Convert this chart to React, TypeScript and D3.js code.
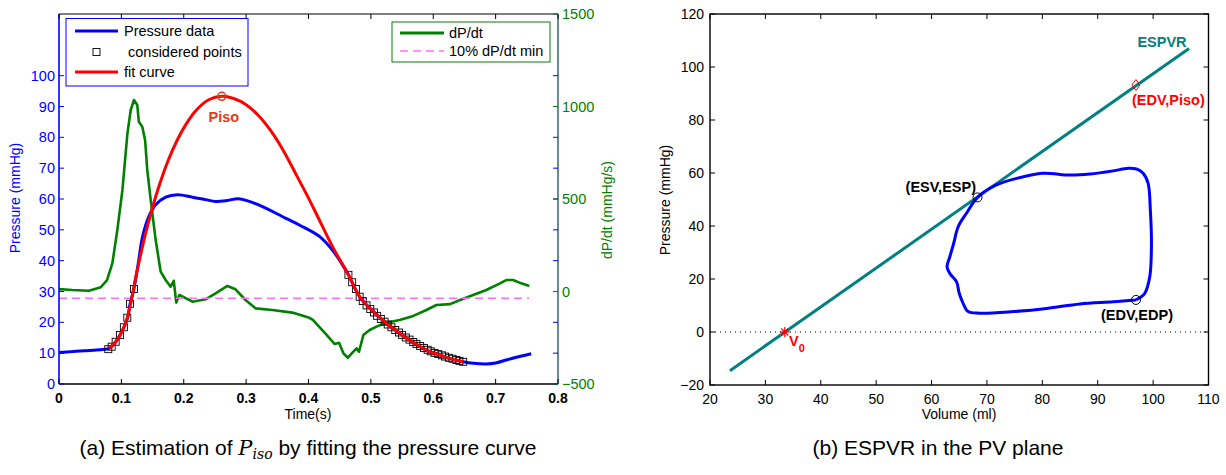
import React from 'react';
import * as d3 from 'd3';

// ---------- Left chart data ----------
const timeTicks = [0, 0.1, 0.2, 0.3, 0.4, 0.5, 0.6, 0.7, 0.8];
const pressureTicks = [0, 10, 20, 30, 40, 50, 60, 70, 80, 90, 100];
const dpdtTicks = [-500, 0, 500, 1000, 1500];

const pressureTime = [0, 0.02, 0.04, 0.06, 0.075, 0.079, 0.084, 0.091, 0.098, 0.104, 0.11, 0.114, 0.12, 0.127, 0.134, 0.144, 0.155, 0.171, 0.19, 0.214, 0.235, 0.251, 0.27, 0.288, 0.32, 0.363, 0.386, 0.418, 0.44, 0.458, 0.464, 0.482, 0.504, 0.525, 0.546, 0.568, 0.589, 0.611, 0.632, 0.648, 0.665, 0.685, 0.7, 0.717, 0.74, 0.757];
const pressureValues = [10.2, 10.5, 10.8, 11.0, 11.3, 11.4, 12.1, 13.7, 15.9, 18.4, 21.5, 26.0, 30.8, 39.0, 47.8, 54.3, 58.1, 60.6, 61.4, 60.6, 59.8, 59.2, 59.5, 60.1, 58.1, 53.8, 51.5, 47.8, 43.0, 37.5, 35.4, 28.3, 23.5, 19.7, 16.5, 13.5, 11.0, 9.4, 8.0, 7.2, 6.7, 6.5, 6.8, 7.8, 9.0, 9.8];

const fitTime = [0.08, 0.091, 0.098, 0.104, 0.109, 0.115, 0.123, 0.131, 0.139, 0.15, 0.16, 0.175, 0.19, 0.205, 0.22, 0.24, 0.261, 0.28, 0.3, 0.32, 0.34, 0.36, 0.38, 0.4, 0.42, 0.44, 0.464, 0.482, 0.504, 0.525, 0.546, 0.568, 0.589, 0.611, 0.632, 0.648];
const fitValues = [11.6, 13.7, 15.9, 18.4, 21.0, 26.2, 34.5, 42.0, 49.0, 57.3, 64.0, 72.5, 79.3, 84.7, 88.8, 92.2, 93.3, 92.6, 90.6, 87.0, 82.0, 75.6, 68.0, 60.3, 52.1, 44.0, 35.4, 28.3, 23.5, 19.7, 16.5, 13.5, 11.0, 9.4, 8.0, 7.2];

const pointTime = [0.079, 0.0844, 0.0908, 0.0978, 0.104, 0.1095, 0.1138, 0.1202,
  0.464, 0.470, 0.476, 0.482, 0.487, 0.493, 0.499, 0.505, 0.510, 0.516, 0.522, 0.527, 0.533, 0.539, 0.545, 0.550, 0.556, 0.562, 0.568, 0.573, 0.579, 0.585, 0.591, 0.596, 0.602, 0.608, 0.614, 0.619, 0.625, 0.631, 0.637, 0.642, 0.648];
const pointValues = [11.3, 12.1, 13.7, 15.9, 18.4, 21.5, 26.0, 30.8,
  35.4, 33.0, 30.8, 28.3, 26.9, 25.5, 24.3, 23.2, 22.1, 21.1, 20.2, 19.3, 18.4, 17.5, 16.7, 15.9, 15.1, 14.4, 13.6, 13.0, 12.3, 11.7, 11.1, 10.6, 10.1, 9.7, 9.3, 8.9, 8.5, 8.2, 7.8, 7.5, 7.2];

const dpdtTime = [0, 0.021, 0.048, 0.067, 0.077, 0.0855, 0.0935, 0.1017, 0.1097, 0.115, 0.1202, 0.1255, 0.128, 0.1335, 0.138, 0.1415, 0.147, 0.155, 0.163, 0.171, 0.179, 0.184, 0.188, 0.193, 0.214, 0.235, 0.251, 0.27, 0.283, 0.299, 0.315, 0.342, 0.374, 0.4, 0.407, 0.429, 0.442, 0.449, 0.456, 0.463, 0.472, 0.477, 0.481, 0.488, 0.498, 0.509, 0.525, 0.546, 0.568, 0.589, 0.605, 0.627, 0.643, 0.664, 0.685, 0.707, 0.717, 0.728, 0.741, 0.754];
const dpdtValues = [13, 8, 4, 23, 62, 152, 332, 549, 855, 981, 1035, 1008, 918, 891, 819, 657, 495, 278, 107, 62, 26, 58, -60, -19, -55, -42, -10, 30, 12, -46, -91, -100, -114, -140, -154, -235, -284, -277, -334, -358, -325, -307, -325, -235, -208, -190, -169, -154, -132, -100, -73, -68, -46, -19, 8, 44, 62, 62, 44, 30];

const thresholdValue = -37;
const thresholdRange = [0, 0.754];
const pisoPoint = { t: 0.261, p: 93.3 };

// ---------- Right chart data ----------
const volumeTicks = [20, 30, 40, 50, 60, 70, 80, 90, 100, 110];
const pvPressureTicks = [-20, 0, 20, 40, 60, 80, 100, 120];

const loopVolume = [96.9, 98.5, 99.4, 99.7, 99.5, 99.1, 98.2, 97.0, 95.5, 92.8, 88.6, 85.0, 80.2, 76.6, 71.7, 68.3, 66.3, 64.8, 64.0, 63.3, 62.8, 63.3, 64.5, 65.0, 65.7, 66.6, 68.7, 74.7, 80.8, 86.8, 92.8, 96.9];
const loopPressure = [12.1, 14.6, 20.9, 33.5, 46.0, 56.1, 59.9, 61.5, 61.8, 60.8, 59.6, 59.2, 59.9, 58.6, 55.5, 50.8, 44.8, 39.7, 33.5, 28.4, 24.6, 22.1, 19.0, 14.6, 10.8, 7.7, 7.1, 7.7, 8.9, 10.6, 11.4, 12.1];

const espvrVolume = [23.6, 106.5];
const espvrPressure = [-14.6, 107];
const v0Point = { v: 33.5, p: 0 };
const espPoint = { v: 68.3, p: 50.8 };
const edpPoint = { v: 96.9, p: 12.1 };
const edPisoPoint = { v: 96.9, p: 93.2 };

const FONT = "'Liberation Sans', Arial, Helvetica, sans-serif";
const BLUE = '#0000ff';
const GREEN = '#008000';
const RED = '#ff0000';
const TEAL = '#008080';
const MAGENTA = '#ff6cff';

export default function App() {
  const xT = d3.scaleLinear().domain([0, 0.8]).range([59, 558]);
  const yP = d3.scaleLinear().domain([0, 120]).range([384, 14]);
  const yD = d3.scaleLinear().domain([-500, 1500]).range([384, 14]);
  const xV = d3.scaleLinear().domain([20, 110]).range([710, 1208.5]);
  const yV = d3.scaleLinear().domain([-20, 120]).range([385, 14]);

  const smooth = d3.line<[number, number]>().curve(d3.curveCatmullRom.alpha(0.5));
  const straight = d3.line<[number, number]>();

  const pressurePath = smooth(pressureTime.map((t, i) => [xT(t), yP(pressureValues[i])]));
  const fitPath = smooth(fitTime.map((t, i) => [xT(t), yP(fitValues[i])]));
  const dpdtPath = straight(dpdtTime.map((t, i) => [xT(t), yD(dpdtValues[i])]));
  const loopPath = smooth(loopVolume.map((v, i) => [xV(v), yV(loopPressure[i])]));
  const espvrPath = straight(espvrVolume.map((v, i) => [xV(v), yV(espvrPressure[i])]));

  const [lx0, lx1] = xT.range();
  const [ly1, ly0] = yP.range();
  const [rx0, rx1] = xV.range();
  const [ry1, ry0] = yV.range();
  const tick = 5;
  const serif = "'DejaVu Serif', 'Liberation Serif', serif";

  return (
    <svg width={1226} height={475} style={{ position: 'absolute', left: 0, top: 0, background: '#fff' }} fontFamily={FONT}>
      <rect x={0} y={0} width={1226} height={475} fill="#fff" />

      {/* ================= LEFT CHART ================= */}
      <path d={dpdtPath || ''} fill="none" stroke={GREEN} strokeWidth={2.6} strokeLinejoin="round" />
      <line x1={xT(thresholdRange[0])} x2={xT(thresholdRange[1])} y1={yD(thresholdValue)} y2={yD(thresholdValue)} stroke={MAGENTA} strokeWidth={1.5} strokeDasharray="8,5" />

      <path d={pressurePath || ''} fill="none" stroke={BLUE} strokeWidth={3} />
      {pointTime.map((t, i) => (
        <rect key={i} x={xT(t) - 3.5} y={yP(pointValues[i]) - 3.5} width={7} height={7} fill="none" stroke="#000" strokeWidth={0.9} />
      ))}
      <path d={fitPath || ''} fill="none" stroke={RED} strokeWidth={3} />
      <circle cx={xT(pisoPoint.t)} cy={yP(pisoPoint.p)} r={4} fill="none" stroke="#e2381c" strokeWidth={1.5} />
      <line x1={xT(pisoPoint.t) - 3.5} x2={xT(pisoPoint.t) + 3.5} y1={yP(pisoPoint.p)} y2={yP(pisoPoint.p)} stroke="#e2381c" strokeWidth={1} />
      <text x={xT(pisoPoint.t) + 2} y={yP(pisoPoint.p) + 26} textAnchor="middle" fontSize={14.5} fontWeight="bold" fill="#e2381c">Piso</text>

      {/* axes frame */}
      <line x1={lx0} x2={lx1} y1={ly0} y2={ly0} stroke="#000" strokeWidth={1.2} />
      <line x1={lx0} x2={lx1} y1={ly1} y2={ly1} stroke="#000" strokeWidth={1.4} />
      <line x1={lx0} x2={lx0} y1={ly0} y2={ly1} stroke={BLUE} strokeWidth={1.6} />
      <line x1={lx1} x2={lx1} y1={ly0} y2={ly1} stroke="#1f5f6f" strokeWidth={1.4} />

      {timeTicks.map((t) => (
        <g key={t}>
          <line x1={xT(t)} x2={xT(t)} y1={ly1} y2={ly1 - tick} stroke="#000" />
          <line x1={xT(t)} x2={xT(t)} y1={ly0} y2={ly0 + tick} stroke="#000" />
          <text x={xT(t)} y={403} textAnchor="middle" fontSize={14} fontWeight="bold" fill="#000">{t === 0 ? '0' : String(t)}</text>
        </g>
      ))}
      {pressureTicks.map((p) => (
        <g key={p}>
          <line x1={lx0} x2={lx0 + tick} y1={yP(p)} y2={yP(p)} stroke={BLUE} />
          <line x1={lx1} x2={lx1 - tick} y1={yP(p)} y2={yP(p)} stroke={BLUE} />
          <text x={55} y={yP(p) + 5} textAnchor="end" fontSize={14.5} fill={BLUE}>{p}</text>
        </g>
      ))}
      {dpdtTicks.map((d) => (
        <g key={d}>
          <line x1={lx1} x2={lx1 - tick} y1={yD(d)} y2={yD(d)} stroke={GREEN} />
          <text x={562} y={yD(d) + 5} textAnchor="start" fontSize={14.5} fill={GREEN}>{d < 0 ? '\u2212' + Math.abs(d) : d}</text>
        </g>
      ))}
      <text transform="translate(20,198) rotate(-90)" textAnchor="middle" fontSize={14} fill={BLUE}>Pressure (mmHg)</text>
      <text transform="translate(612,210) rotate(-90)" textAnchor="middle" fontSize={14} fill={GREEN}>dP/dt (mmHg/s)</text>
      <text x={308} y={419} textAnchor="middle" fontSize={14} fill="#000">Time(s)</text>

      {/* legend 1 */}
      <rect x={66} y={18.5} width={182} height={67.5} fill="#fff" stroke={BLUE} strokeWidth={1} />
      <line x1={75} x2={118} y1={31} y2={31} stroke={BLUE} strokeWidth={3} />
      <text x={124} y={36} fontSize={14.5} fill="#000">Pressure data</text>
      <rect x={93} y={48.5} width={7} height={7} fill="none" stroke="#000" strokeWidth={0.9} />
      <text x={128} y={57} fontSize={14.5} fill="#000">considered points</text>
      <line x1={75} x2={118} y1={72} y2={72} stroke={RED} strokeWidth={3} />
      <text x={124} y={77} fontSize={14.5} fill="#000">fit curve</text>

      {/* legend 2 */}
      <rect x={392} y={22} width={158} height={40} fill="#fff" stroke={GREEN} strokeWidth={1} />
      <line x1={400} x2={444} y1={33} y2={33} stroke={GREEN} strokeWidth={3} />
      <text x={449} y={38} fontSize={14.5} fill="#000">dP/dt</text>
      <line x1={400} x2={444} y1={51} y2={51} stroke={MAGENTA} strokeWidth={1.5} strokeDasharray="8,5" />
      <text x={449} y={56} fontSize={14.5} fill="#000">10% dP/dt min</text>

      {/* ================= RIGHT CHART ================= */}
      <line x1={rx0} x2={rx1} y1={yV(0)} y2={yV(0)} stroke="#000" strokeWidth={1} strokeDasharray="1,4" />
      <path d={espvrPath || ''} fill="none" stroke={TEAL} strokeWidth={3} />
      <path d={loopPath || ''} fill="none" stroke={BLUE} strokeWidth={3} />
      <circle cx={xV(espPoint.v)} cy={yV(espPoint.p)} r={4.5} fill="none" stroke="#000" strokeWidth={1} />
      <circle cx={xV(edpPoint.v)} cy={yV(edpPoint.p)} r={4.5} fill="none" stroke="#000" strokeWidth={1} />
      <path d={`M${xV(edPisoPoint.v)},${yV(edPisoPoint.p) - 5.5} l4,5.5 l-4,5.5 l-4,-5.5 z`} fill="none" stroke={RED} strokeWidth={1} />
      <g stroke={RED} strokeWidth={1.2}>
        <line x1={xV(v0Point.v) - 5} x2={xV(v0Point.v) + 5} y1={yV(v0Point.p)} y2={yV(v0Point.p)} />
        <line x1={xV(v0Point.v)} x2={xV(v0Point.v)} y1={yV(v0Point.p) - 5} y2={yV(v0Point.p) + 5} />
        <line x1={xV(v0Point.v) - 3.5} x2={xV(v0Point.v) + 3.5} y1={yV(v0Point.p) - 3.5} y2={yV(v0Point.p) + 3.5} />
        <line x1={xV(v0Point.v) - 3.5} x2={xV(v0Point.v) + 3.5} y1={yV(v0Point.p) + 3.5} y2={yV(v0Point.p) - 3.5} />
      </g>

      <text x={1162} y={47} textAnchor="middle" fontSize={14.5} fontWeight="bold" fill={TEAL}>ESPVR</text>
      <text x={1132} y={105} fontSize={14.5} fontWeight="bold" fill={RED}>(EDV,Piso)</text>
      <text x={976} y={192} textAnchor="end" fontSize={14.5} fontWeight="bold" fill="#000">(ESV,ESP)</text>
      <text x={1101} y={320} fontSize={14.5} fontWeight="bold" fill="#000">(EDV,EDP)</text>
      <text x={789} y={346} fontSize={14.5} fontWeight="bold" fill={RED}>V<tspan dy={6} fontSize={11}>0</tspan></text>

      <rect x={rx0} y={ry0} width={rx1 - rx0} height={ry1 - ry0} fill="none" stroke="#000" strokeWidth={1.4} />
      {volumeTicks.map((v) => (
        <g key={v}>
          <line x1={xV(v)} x2={xV(v)} y1={ry1} y2={ry1 - tick} stroke="#000" />
          <line x1={xV(v)} x2={xV(v)} y1={ry0} y2={ry0 + tick} stroke="#000" />
          <text x={xV(v)} y={404} textAnchor="middle" fontSize={14} fill="#000">{v}</text>
        </g>
      ))}
      {pvPressureTicks.map((p) => (
        <g key={p}>
          <line x1={rx0} x2={rx0 + tick} y1={yV(p)} y2={yV(p)} stroke="#000" />
          <line x1={rx1} x2={rx1 - tick} y1={yV(p)} y2={yV(p)} stroke="#000" />
          <text x={704} y={yV(p) + 5} textAnchor="end" fontSize={14} fill="#000">{p < 0 ? '\u2212' + Math.abs(p) : p}</text>
        </g>
      ))}
      <text transform="translate(670,200) rotate(-90)" textAnchor="middle" fontSize={14} fill="#000">Pressure (mmHg)</text>
      <text x={959} y={419} textAnchor="middle" fontSize={14} fill="#000">Volume (ml)</text>

      {/* captions */}
      <text x={308} y={455} textAnchor="middle" fontSize={21} fill="#000">
        (a) Estimation of <tspan fontFamily={serif} fontStyle="italic">P</tspan><tspan dy={4} fontSize={14} fontFamily={serif} fontStyle="italic">iso</tspan><tspan dy={-4}> by fitting the pressure curve</tspan>
      </text>
      <text x={938} y={455} textAnchor="middle" fontSize={21} fill="#000">(b) ESPVR in the PV plane</text>
    </svg>
  );
}
